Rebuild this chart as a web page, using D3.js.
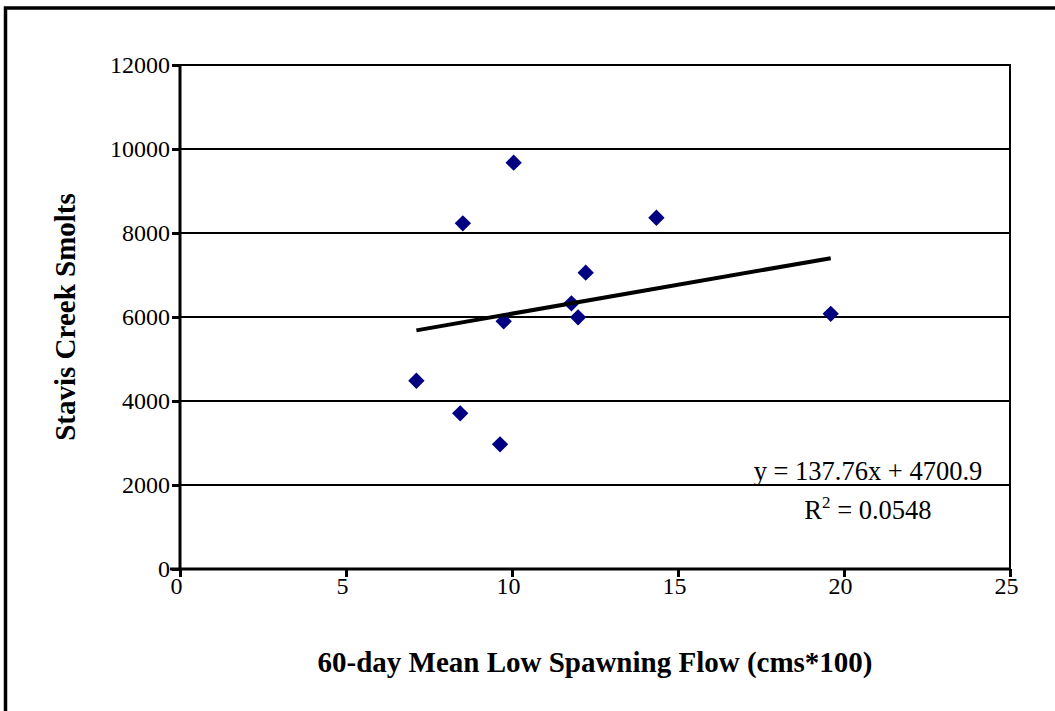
<!DOCTYPE html>
<html><head><meta charset="utf-8">
<script src="https://cdn.jsdelivr.net/npm/d3@7"></script>
<style>html,body{margin:0;padding:0;background:#fff;overflow:hidden}</style>
</head><body>
<svg id="c" width="1055" height="711"></svg>
<script>
// Data
const flowX = [10.05, 8.52, 14.35, 12.22, 11.79, 11.99, 9.75, 7.12, 8.44, 9.64, 19.6];
const smoltsY = [9674, 8231, 8364, 7055, 6326, 5993, 5898, 4483, 3707, 2969, 6075];
const xTicks = [0, 5, 10, 15, 20, 25];
const yTicks = [0, 2000, 4000, 6000, 8000, 10000, 12000];
const trendSlope = 137.76;
const trendIntercept = 4700.9;
const eqLabel = "y = 137.76x + 4700.9";
const r2Value = "0.0548";
const xTitle = "60-day Mean Low Spawning Flow (cms*100)";
const yTitle = "Stavis Creek Smolts";

const svg = d3.select("#c");
const L = 180, R = 1010, T = 65, B = 569;
const x = d3.scaleLinear().domain([0, 25]).range([L, R]);
const y = d3.scaleLinear().domain([0, 12000]).range([B, T]);
const font = "'Liberation Serif','Times New Roman',serif";

// outer frame (right/bottom edges lie outside the picture)
svg.append("rect").attr("x", 5.5).attr("y", 8).attr("width", 1200).attr("height", 900)
  .attr("fill", "none").attr("stroke", "#000").attr("stroke-width", 3.5);

// gridlines
svg.append("g").selectAll("line").data(yTicks.filter(d => d > 0)).join("line")
  .attr("x1", L).attr("x2", R).attr("y1", d => y(d)).attr("y2", d => y(d))
  .attr("stroke", "#000").attr("stroke-width", 2);
// right border
svg.append("line").attr("x1", R).attr("x2", R).attr("y1", T - 1).attr("y2", B)
  .attr("stroke", "#000").attr("stroke-width", 2);

// axes
const yAxis = d3.axisLeft(y).tickValues(yTicks).tickSize(8).tickPadding(2).tickFormat(d3.format("d"));
const gy = svg.append("g").attr("transform", `translate(${L},0)`).call(yAxis);
const xAxis = d3.axisBottom(x).tickValues(xTicks).tickSize(8).tickFormat(d3.format("d"));
const gx = svg.append("g").attr("transform", `translate(0,${B})`).call(xAxis);
[gx, gy].forEach(g => {
  g.select(".domain").attr("stroke", "#000").attr("stroke-width", 3);
  g.selectAll(".tick line").attr("stroke", "#000").attr("stroke-width", 3);
  g.selectAll("text").attr("font-family", font).attr("font-size", 24).attr("fill", "#000");
});
gy.select(".domain").attr("d", `M0,${T - 1}V${B + 1}`);
gx.select(".domain").attr("d", `M${L - 10},0H${R + 1}`);
gx.selectAll(".tick text").attr("y", 25).attr("dy", 0).attr("dx", -4);

// points
const pts = flowX.map((v, i) => ({x: v, y: smoltsY[i]}));
svg.append("g").selectAll("path").data(pts).join("path")
  .attr("transform", d => `translate(${x(d.x)},${y(d.y)})`)
  .attr("d", d3.symbol().type(d3.symbolDiamond2).size(170))
  .attr("fill", "#000080");

// trendline
const xmin = d3.min(flowX), xmax = d3.max(flowX);
svg.append("line")
  .attr("x1", x(xmin)).attr("y1", y(trendSlope * xmin + trendIntercept))
  .attr("x2", x(xmax)).attr("y2", y(trendSlope * xmax + trendIntercept))
  .attr("stroke", "#000").attr("stroke-width", 4);

// equation labels
svg.append("text").attr("x", 868).attr("y", 480).attr("text-anchor", "middle")
  .attr("font-family", font).attr("font-size", 26.5).text(eqLabel);
const r2 = svg.append("text").attr("x", 868).attr("y", 519).attr("text-anchor", "middle")
  .attr("font-family", font).attr("font-size", 26.5);
r2.append("tspan").text("R");
r2.append("tspan").attr("dy", -11).attr("font-size", 17).text("2");
r2.append("tspan").attr("dy", 11).text(" = " + r2Value);

// titles
svg.append("text").attr("x", 595).attr("y", 672).attr("text-anchor", "middle")
  .attr("font-family", font).attr("font-size", 29).attr("font-weight", "bold").text(xTitle);
svg.append("text").attr("transform", `translate(75,${(T + B) / 2}) rotate(-90)`)
  .attr("text-anchor", "middle").attr("font-family", font).attr("font-size", 29)
  .attr("font-weight", "bold").text(yTitle);
</script>
</body></html>
